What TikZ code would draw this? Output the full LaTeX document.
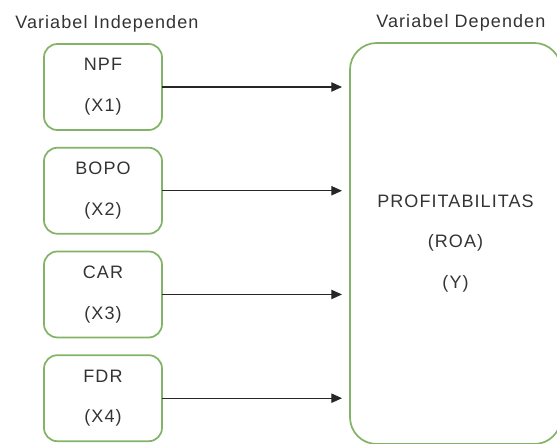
\documentclass[tikz,border=0pt]{standalone}
\usepackage{fontspec}
\setmainfont{Liberation Sans}[LetterSpace=6]
\usetikzlibrary{positioning,arrows.meta}

\definecolor{hijau}{HTML}{82B366}
\definecolor{teks}{HTML}{333333}

\begin{document}
\begin{tikzpicture}[x=0.75pt, y=0.75pt,
    huruf/.style={font=\fontsize{13.5}{30.5}\selectfont, text=teks},
    kotakvar/.style={huruf, draw=hijau, line width=1.3pt, rounded corners=10pt,
      minimum width=88.5pt, minimum height=64.5pt, align=center, outer sep=0pt},
    kotakdep/.style={kotakvar, rounded corners=20pt,
      minimum width=158.25pt, minimum height=300.75pt},
    judul/.style={huruf, inner sep=0pt},
    panah/.style={draw=black!85, line width=0.9pt,
      -{Triangle[length=8pt,width=7pt]}, shorten >=6pt}]

  \useasboundingbox (0,0) rectangle (557,-443);

  % --- Variabel independen ---
  \node[kotakvar] (x1) at (103,-87) {NPF\\(X1)};
  \node[kotakvar, below=13.3pt of x1] (x2) {BOPO\\(X2)};
  \node[kotakvar, below=13.3pt of x2] (x3) {CAR\\(X3)};
  \node[kotakvar, below=13.3pt of x3] (x4) {FDR\\(X4)};

  % --- Variabel dependen ---
  \node[kotakdep] (y) at (455.5,-243.5) {PROFITABILITAS\\(ROA)\\(Y)};

  % --- Judul kolom ---
  \node[judul, anchor=base west] (jind) at ([xshift=-21.75pt, yshift=12pt]x1.north west) {Variabel Independen};
  \node[judul, anchor=base] (jdep) at ([xshift=4pt, yshift=12pt]y.north) {Variabel Dependen};

  % --- Panah X -> Y ---
  \foreach \v in {x1,x2,x3,x4}
    \draw[panah] (\v.east) -- (\v.east -| y.west);

\end{tikzpicture}
\end{document}
